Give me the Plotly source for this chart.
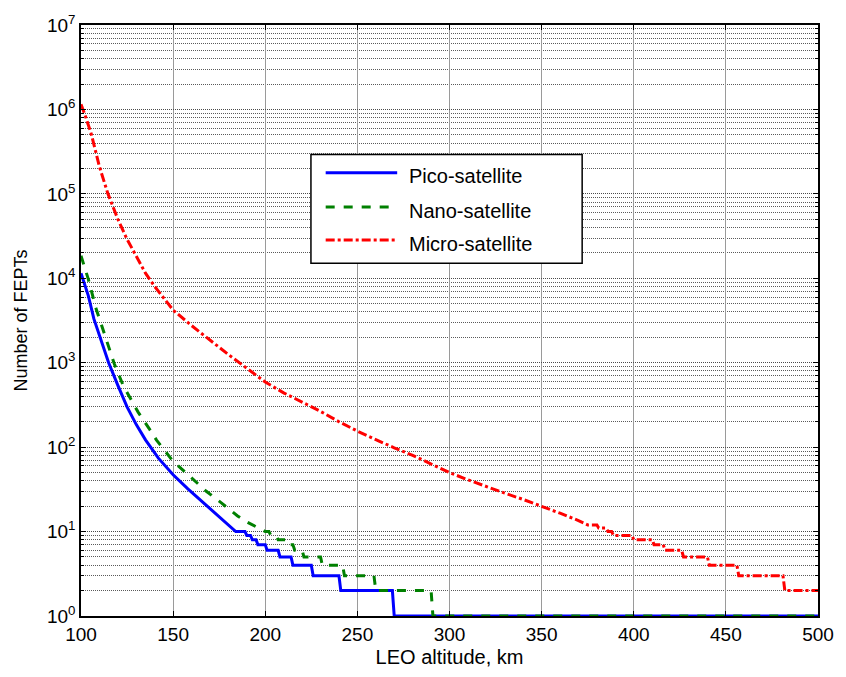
import plotly.graph_objects as go

# ---- data ----
pico_x = [100, 104, 107, 111, 115, 120, 125, 130, 135, 142, 150, 158, 167, 176, 184,
          189, 190, 192, 193, 195, 196, 200, 201, 207, 208, 214, 215, 225, 226, 240,
          241, 269, 270, 500]
pico_y = [11500, 6200, 3300, 1800, 1000, 540, 300, 185, 122, 74, 47, 32, 21.5, 14.5, 10,
          10, 9, 9, 8, 8, 7, 7, 6, 6, 5, 5, 4, 4, 3, 3,
          2, 2, 1, 1]

nano_x = [100, 104, 108, 113, 118, 123, 131, 137, 141, 150, 159, 168, 176, 185, 190, 196,
          200, 202, 203, 206, 207, 211, 212, 215, 216, 220, 221, 230, 231, 242, 243, 259,
          260, 290, 291, 500]
nano_y = [18500, 9700, 4500, 2100, 980, 530, 260, 166, 121, 68, 45, 30, 22, 15.3, 13, 11,
          10, 10, 9, 9, 8, 8, 7, 7, 6, 6, 5, 5, 4, 4, 3, 3,
          2, 2, 1, 1]

micro_x = [100, 102, 105.5, 110, 114.5, 120, 125, 131, 135, 140, 145, 150, 160, 170, 180,
           190, 200, 210, 220, 230, 240, 250, 260, 270, 280, 290, 300, 310, 320, 330,
           340, 350, 360, 370, 375, 380, 381, 385, 386, 388, 389, 399, 400, 410,
           411, 416, 417, 426, 427, 440, 441, 456, 457, 481, 482, 500]
micro_y = [1.15e6, 8.8e5, 5.2e5, 2.1e5, 1.02e5, 5.0e4, 2.9e4, 1.65e4, 1.15e4, 8.0e3,
           5.7e3, 4.2e3, 2.75e3, 1.85e3, 1.25e3, 860, 590, 440, 340, 265, 200, 155,
           123, 98, 80, 63, 50, 41, 34, 28.5, 24, 20, 16.5, 13.5, 12, 12, 11, 11,
           10, 10, 9, 9, 8, 8, 7, 7, 6, 6, 5, 5, 4, 4, 3, 3, 2, 2]

series_names = ["Pico-satellite", "Nano-satellite", "Micro-satellite"]
series_colors = ["#0000ff", "#008000", "#ff0000"]
series_dash = ["solid", "dash", "dashdot"]
x_ticks = [100, 150, 200, 250, 300, 350, 400, 450, 500]
y_ticks = [1, 10, 100, 1e3, 1e4, 1e5, 1e6, 1e7]
y_ticktext = ["10<sup>%d</sup>" % i for i in range(8)]

FONT = "Liberation Sans, Arial, Helvetica, sans-serif"

fig = go.Figure()
for xs, ys, name, col, dash in zip([pico_x, nano_x, micro_x], [pico_y, nano_y, micro_y],
                                   series_names, series_colors, series_dash):
    fig.add_trace(go.Scatter(x=xs, y=ys, mode="lines", name=name, showlegend=False,
                             line=dict(color=col, width=3, dash=dash)))

# ---- legend box drawn in paper coordinates (MATLAB-style) ----
L_X0, L_X1, L_Y0, L_Y1 = 0.312, 0.680, 0.597, 0.781
SAMPLE_X0, SAMPLE_X1, TEXT_X = 0.332, 0.429, 0.442
ROW_Y = [0.744, 0.686, 0.630]
fig.add_shape(type="rect", xref="paper", yref="paper", x0=L_X0, x1=L_X1, y0=L_Y0, y1=L_Y1,
              line=dict(color="black", width=1.5), fillcolor="white", layer="above")
for name, col, dash, ry in zip(series_names, series_colors, series_dash, ROW_Y):
    fig.add_shape(type="line", xref="paper", yref="paper", x0=SAMPLE_X0, x1=SAMPLE_X1,
                  y0=ry + 0.006, y1=ry + 0.006, line=dict(color=col, width=3, dash=dash),
                  layer="above")
    fig.add_annotation(xref="paper", yref="paper", x=TEXT_X, y=ry, text=name,
                       showarrow=False, xanchor="left", yanchor="middle",
                       font=dict(size=20, color="black", family=FONT))

fig.update_layout(
    width=846, height=677,
    margin=dict(l=81, r=21, t=20, b=59),
    paper_bgcolor="white", plot_bgcolor="white",
    font=dict(family=FONT, size=19, color="black"),
    showlegend=False,
)
fig.update_xaxes(
    range=[100, 500], tickvals=x_ticks, ticktext=[str(v) for v in x_ticks],
    showline=True, linecolor="black", linewidth=1.5, mirror="ticks",
    ticks="inside", ticklen=5, tickcolor="black",
    showgrid=True, gridcolor="#9a9a9a", gridwidth=1, zeroline=False,
    tickfont=dict(size=19),
    title=dict(text="LEO altitude, km", font=dict(size=20), standoff=6),
)
fig.update_yaxes(
    type="log", range=[0, 7], tickvals=y_ticks, ticktext=y_ticktext,
    showline=True, linecolor="black", linewidth=1.5, mirror="ticks",
    ticks="inside", ticklen=5, tickcolor="black",
    showgrid=True, gridcolor="#4a4a4a", gridwidth=1, griddash="1px,1px", zeroline=False,
    tickfont=dict(size=19),
    minor=dict(dtick="D1", ticks="inside", ticklen=3, tickcolor="black",
               showgrid=True, gridcolor="#5a5a5a", griddash="1px,1px", gridwidth=1),
    title=dict(text="Number of FEPTs", font=dict(size=18), standoff=15),
)

fig.write_html("out.html")
